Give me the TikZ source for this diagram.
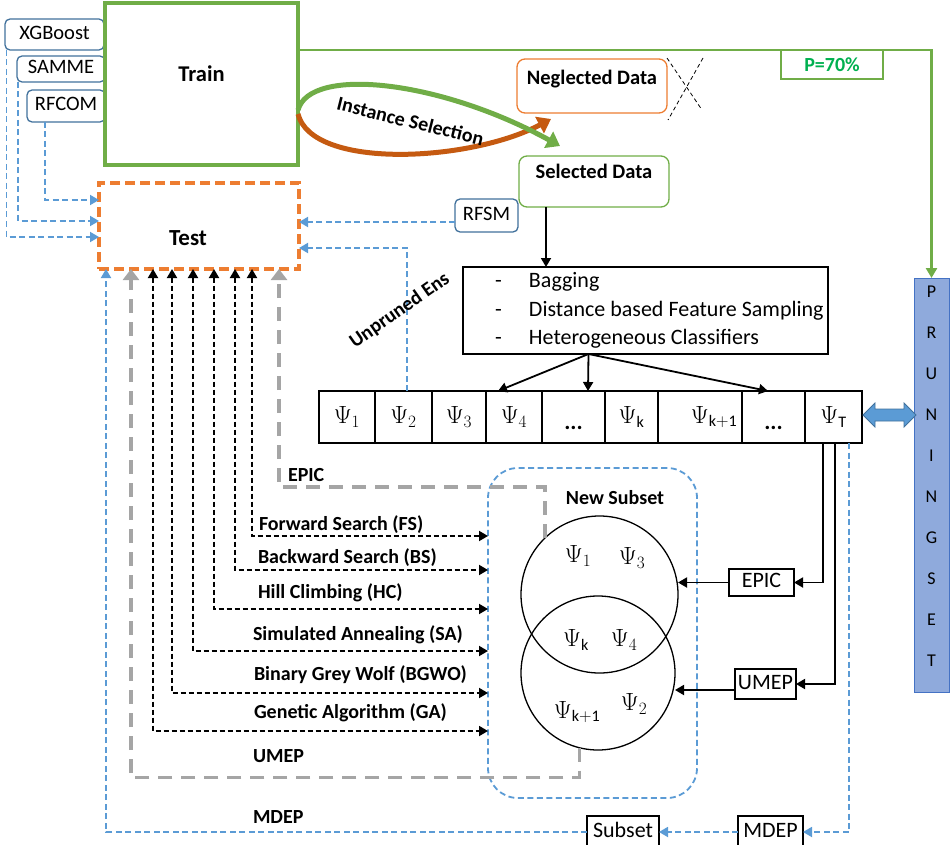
\documentclass[tikz,border=0pt]{standalone}
\usepackage{fontspec}
\setmainfont{Carlito}
\usetikzlibrary{arrows.meta}

\definecolor{trgreen}{HTML}{70AD47}
\definecolor{dkgreen}{HTML}{548235}
\definecolor{tsorange}{HTML}{ED7D31}
\definecolor{isorange}{HTML}{C55A11}
\definecolor{lnblue}{HTML}{5B9BD5}
\definecolor{bxblue}{HTML}{41719C}
\definecolor{dgray}{HTML}{A5A5A5}
\definecolor{prfill}{HTML}{8FAADC}
\definecolor{prborder}{HTML}{4472C4}
\definecolor{pgreen}{HTML}{00B050}

\begin{document}
\begin{tikzpicture}[x=1pt,y=-1pt,
  every node/.style={inner sep=0pt, outer sep=0pt},
  txt/.style={font=\fontsize{21}{25}\selectfont, text height=14pt, text depth=4pt},
  btxt/.style={font=\fontsize{20}{24}\selectfont\bfseries, text height=14pt, text depth=4pt},
  mth/.style={font=\fontsize{23}{27}\selectfont},
  modelbox/.style={draw=bxblue, line width=1.3pt, rounded corners=5pt, fill=white, txt,
    font=\fontsize{20.5}{24}\selectfont},
  plainbox/.style={draw=black, line width=1.3pt, fill=white, txt, font=\fontsize{22}{26}\selectfont},
  cell/.style={draw=black, line width=1.3pt, minimum height=52pt, mth},
  bluedash/.style={draw=lnblue, line width=1.8pt, dash pattern=on 6pt off 3.5pt},
  bluearrow/.style={bluedash, -{Triangle[length=9pt,width=10pt]}},
  blkarrow/.style={draw=black, line width=1.8pt, -{Triangle[length=9pt,width=10pt]}},
  algoarrow/.style={draw=black, line width=1.8pt, dash pattern=on 5pt off 3pt,
    {Triangle[length=9pt,width=10pt]}-{Triangle[length=9pt,width=10pt]}},
  grayarrow/.style={draw=dgray, line width=3.5pt, dash pattern=on 14pt off 9pt,
    -{Triangle[length=11pt,width=16pt]}},
]
\useasboundingbox (0,0) rectangle (950,845);

% ---------- baseline models ----------
\node[modelbox, minimum width=99pt, minimum height=31pt] (xgb) at (54.5,34.5) {XGBoost};
\node[modelbox, minimum width=88pt, minimum height=26pt] (samme) at (61,69) {SAMME};
\node[modelbox, minimum width=78pt, minimum height=32pt] (rfcom) at (66,106) {RFCOM};

% ---------- train / test ----------
\node[draw=trgreen, line width=3.5pt, minimum width=193pt, minimum height=162pt] (train) at (201.5,84) {};
\node[btxt, font=\fontsize{22.5}{26}\selectfont\bfseries] (traintxt) at (201.5,77) {Train};
\node[draw=tsorange, line width=3.5pt, dash pattern=on 10pt off 5pt,
      minimum width=200pt, minimum height=86pt] (test) at (199,226) {};
\node[btxt, font=\fontsize{23}{27}\selectfont\bfseries] (testtxt) at (188,240) {Test};

% ---------- instance selection ----------
\node[draw=tsorange, line width=1.3pt, rounded corners=8pt, minimum width=150pt, minimum height=54pt] (neg) at (592,86) {};
\node[btxt, font=\fontsize{20.5}{24}\selectfont\bfseries] (negtxt) at (592,80) {Neglected Data};
\node[draw=trgreen, line width=1.3pt, rounded corners=8pt, minimum width=150pt, minimum height=51pt] (sel) at (594,181.5) {};
\node[btxt, font=\fontsize{20.5}{24}\selectfont\bfseries] (seltxt) at (594,174) {Selected Data};

\coordinate (xa) at (667,58);
\coordinate (xb) at (702,110);
\coordinate (xc) at (703,58);
\coordinate (xd) at (668,120);
\draw[line width=0.8pt, dash pattern=on 4pt off 3pt] (xa) -- (xb);
\draw[line width=0.8pt, dash pattern=on 4pt off 3pt] (xc) -- (xd);

\draw[isorange, line width=5pt, -{Triangle[length=13pt,width=18pt]}]
  ([yshift=-30pt]train.east) .. controls (312,170) and (470,162) .. (551,119);
\draw[trgreen, line width=5pt, -{Triangle[length=13pt,width=18pt]}]
  ([yshift=-26pt]train.east) .. controls (310,66) and (440,80) .. (560,146);
\node[btxt, font=\fontsize{20}{24}\selectfont\bfseries, rotate=-14] (istxt) at (410,123) {Instance Selection};

% ---------- Train to pruning set ----------
\node[draw=prborder, fill=prfill, line width=1pt, minimum width=35pt, minimum height=414pt] (prune) at (931.5,485) {};
\node[font=\fontsize{18}{41}\selectfont, align=center] (prunetxt) at (931.5,476.5) {P\\R\\U\\N\\I\\N\\G\\S\\E\\T};
\draw[trgreen, line width=2.5pt, -{Triangle[length=10pt,width=11pt]}]
  ([yshift=34pt]train.east) -| (prune.north);
\node[draw=trgreen, line width=1.8pt, fill=white, minimum width=102pt, minimum height=29pt,
      font=\fontsize{20}{24}\selectfont\bfseries, text=pgreen] (p70) at (832,64.5) {P=70\%};

% ---------- RFSM ----------
\node[modelbox, minimum width=63pt, minimum height=33pt] (rfsm) at (486.5,215.5) {RFSM};

% ---------- ensemble generation ----------
\node[draw=black, line width=1.1pt, minimum width=365pt, minimum height=87pt] (feat) at (645.5,310.5) {};
\node[txt, font=\fontsize{22}{26}\selectfont, anchor=west] (f1) at (495,282) {\makebox[34pt][l]{-}Bagging};
\node[txt, font=\fontsize{22}{26}\selectfont, anchor=west] (f2) at (495,311) {\makebox[34pt][l]{-}Distance based Feature Sampling};
\node[txt, font=\fontsize{22}{26}\selectfont, anchor=west] (f3) at (495,339) {\makebox[34pt][l]{-}Heterogeneous Classifiers};

\node[cell, minimum width=56pt] (c1) at (347,417) {$\Psi_1$};
\node[cell, minimum width=57pt] (c2) at (403.5,417) {$\Psi_2$};
\node[cell, minimum width=54pt] (c3) at (459,417) {$\Psi_3$};
\node[cell, minimum width=56pt] (c4) at (514,417) {$\Psi_4$};
\node[cell, minimum width=63pt] (c5) at (573.5,417) {};
\node[cell, minimum width=53pt] (c6) at (631.5,417) {$\Psi_{\mathrm{k}}$};
\node[cell, minimum width=84pt] (c7) at (700,417) {};
\node[cell, minimum width=63pt] (c8) at (773.5,417) {};
\node[cell, minimum width=57pt] (cT) at (833.5,417) {$\Psi_{\mathrm{T}}$};
\node[mth] (lk1) at (714,417) {$\Psi_{\mathrm{k+1}}$};
\node[btxt, font=\fontsize{23}{27}\selectfont\bfseries] (d5) at (573.5,424) {...};
\node[btxt, font=\fontsize{23}{27}\selectfont\bfseries] (d8) at (773.5,424) {...};

\draw[blkarrow] ([xshift=-48pt]sel.south) -- ([xshift=-99.5pt]feat.north);
\draw[blkarrow] ([xshift=-57pt]feat.south) -- ([xshift=-16pt]c4.north);
\draw[blkarrow] ([xshift=-57pt]feat.south) -- ([xshift=14.5pt]c5.north);
\draw[blkarrow] ([xshift=-57pt]feat.south) -- ([xshift=-5.5pt]c8.north);

% double arrow to the pruning set
\coordinate (dl) at ([xshift=1pt,yshift=2pt]cT.east);
\draw[draw=bxblue, fill=lnblue, line width=0.8pt]
  (dl) -- ++(12,-12) -- ++(0,6) -- ++(29,0) -- ++(0,-6) -- ++(12,12)
  -- ++(-12,12) -- ++(0,-6) -- ++(-29,0) -- ++(0,6) -- cycle;

% ---------- new subset ----------
\node[bluedash, rounded corners=30pt, minimum width=209pt, minimum height=330pt] (newsub) at (592.5,633) {};
\node[btxt, font=\fontsize{20}{24}\selectfont\bfseries] (nstxt) at (615,499) {New Subset};
\node[draw=black, line width=1.3pt, circle, minimum size=157pt] (s1) at (599.5,594.5) {};
\node[draw=black, line width=1.3pt, circle, minimum size=154pt] (s2) at (598,673) {};
\node[mth] (p1) at (578,556) {$\Psi_1$};
\node[mth] (p3) at (632,558) {$\Psi_3$};
\node[mth] (pk) at (576,640) {$\Psi_{\mathrm{k}}$};
\node[mth] (p4) at (624,640) {$\Psi_4$};
\node[mth] (pk1) at (577,712) {$\Psi_{\mathrm{k+1}}$};
\node[mth] (p2) at (634,704) {$\Psi_2$};

% ---------- pruning methods on the right ----------
\node[plainbox, minimum width=65pt, minimum height=27pt] (epic) at (761.5,582.5) {EPIC};
\node[plainbox, minimum width=61pt, minimum height=30pt] (umep) at (765.5,684) {UMEP};
\node[plainbox, minimum width=65pt, minimum height=32pt] (mdep) at (770.5,832) {MDEP};
\node[plainbox, minimum width=72pt, minimum height=32pt] (subset) at (623,832) {Subset};

\draw[blkarrow] ([xshift=-10.5pt]cT.south) |- (epic.east);
\draw[blkarrow] ([xshift=1.5pt]cT.south) |- (umep.east);
\draw[blkarrow] (epic.west) -- (epic.west -| s1.east);
\draw[blkarrow] ([yshift=-6pt]umep.west) -- ([yshift=-6pt]umep.west -| s2.east);
\draw[bluearrow] ([xshift=15.5pt]cT.south) |- (mdep.east);
\draw[bluearrow] (mdep.west) -- (subset.east);
\draw[bluearrow] (subset.west) -| ([xshift=7pt]test.south west);

% ---------- arrows into the test block ----------
\draw[bluearrow] ([xshift=1.5pt]xgb.south west) |- ([yshift=-11pt]test.west);
\draw[bluearrow] ([xshift=1pt]samme.south west) |- ([yshift=5pt]test.west);
\draw[bluearrow] ([xshift=18pt]rfcom.south west) |- ([yshift=26pt]test.west);
\draw[bluearrow] ([yshift=-6.5pt]rfsm.west) -- ([yshift=-6.5pt]rfsm.west -| test.east);
\draw[bluearrow] ([xshift=3.5pt]c2.north) |- ([yshift=-22pt]test.east);
\node[btxt, font=\fontsize{20}{24}\selectfont\bfseries, rotate=35] (unptxt) at (400,311) {Unpruned Ens};

\draw[grayarrow] (s1.134) -- ++(0,-51) -| ([xshift=180pt]test.south west);
\draw[grayarrow] (s2.256) -- ++(0,30) -| ([xshift=32pt]test.south west);
\node[btxt, anchor=west] (epictxt) at (288,476) {EPIC};
\node[btxt, anchor=west] (umeptxt) at (253,757) {UMEP};
\node[btxt, anchor=west] (mdeptxt) at (253,818) {MDEP};

% ---------- search strategies ----------
\draw[algoarrow] ([xshift=153pt]test.south west) |- ([yshift=97pt]newsub.west);
\draw[algoarrow] ([xshift=136pt]test.south west) |- ([yshift=63pt]newsub.west);
\draw[algoarrow] ([xshift=115pt]test.south west) |- ([yshift=24pt]newsub.west);
\draw[algoarrow] ([xshift=94pt]test.south west) |- ([yshift=-18pt]newsub.west);
\draw[algoarrow] ([xshift=73pt]test.south west) |- ([yshift=-60pt]newsub.west);
\draw[algoarrow] ([xshift=54pt]test.south west) |- ([yshift=-98pt]newsub.west);
\node[btxt, anchor=west] (fs) at (259,525) {Forward Search (FS)};
\node[btxt, anchor=west] (bs) at (258,558) {Backward Search (BS)};
\node[btxt, anchor=west] (hc) at (258,593) {Hill Climbing (HC)};
\node[btxt, anchor=west] (sa) at (253,635) {Simulated Annealing (SA)};
\node[btxt, anchor=west] (bg) at (254,675) {Binary Grey Wolf (BGWO)};
\node[btxt, anchor=west] (ga) at (254,713) {Genetic Algorithm (GA)};

\end{tikzpicture}
\end{document}
